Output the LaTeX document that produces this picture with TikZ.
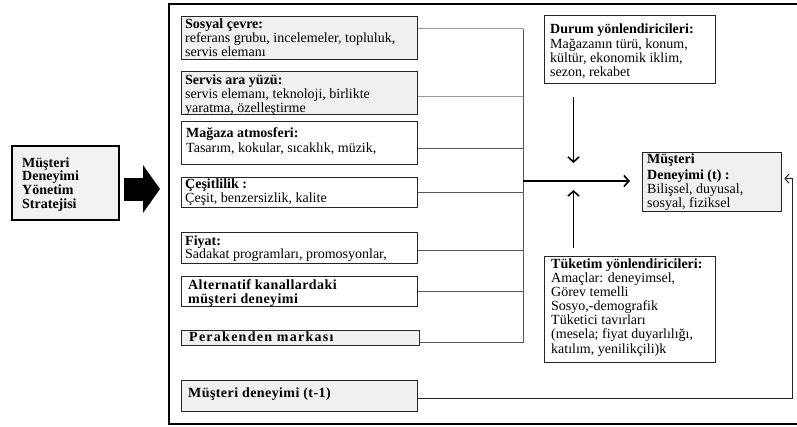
\documentclass[tikz,border=0pt]{standalone}
\usepackage{fontspec}
\setmainfont{Liberation Serif}
\newfontfamily\spacedA[LetterSpace=3]{Liberation Serif}
\newfontfamily\spacedB[LetterSpace=9]{Liberation Serif}
\usetikzlibrary{arrows.meta}
\newcommand\mlines[1]{\begin{tabular}[t]{@{}l@{}}#1\end{tabular}}
\tikzset{
  box/.style={draw=black!85, line width=1.3pt, inner sep=0pt, anchor=north west},
  gbox/.style={box, fill=black!6},
  txt/.style={anchor=base west, inner sep=0pt, font=\fontsize{14}{14.2}\selectfont},
  btxt/.style={txt, font=\fontsize{14}{14.2}\selectfont\bfseries},
  conn/.style={draw=black!65, line width=0.9pt},
  lconn/.style={draw=black!40, line width=0.9pt},
  arr/.style={line width=1.6pt, -{Straight Barb[length=5pt,width=11pt]}},
  fbarr/.style={draw=black!85, line width=1pt, -{Straight Barb[length=4pt,width=9pt]}},
}
\begin{document}
\begin{tikzpicture}[x=1pt,y=-1pt]
\useasboundingbox (0,0) rectangle (797,426);
% outer frame
\node[box, draw=black, line width=2.2pt, minimum width=632, minimum height=420] (outer) at (168,3) {};
% left strategy box
\node[box, draw=black, fill=black!5, line width=1.6pt, minimum width=107, minimum height=74] (lb) at (11,145) {};
\node[btxt, font=\fontsize{14}{13.8}\selectfont\bfseries] (lbt) at (22,167) {\mlines{Müşteri\\Deneyimi\\Yönetim\\Stratejisi}};
% thick arrow
\coordinate (la1) at (124,189);
\coordinate (la2) at (160,189);
\draw[line width=23pt, -{Triangle[length=17pt,width=47pt]}] (la1) -- (la2);
% left column boxes
\node[gbox, minimum width=236, minimum height=43] (soc) at (181,16) {};
\node[gbox, minimum width=236, minimum height=43] (srv) at (181,71) {};
\node[box, fill=white, minimum width=236, minimum height=43] (mag) at (181,121) {};
\node[box, fill=white, minimum width=236, minimum height=30] (ces) at (181,177) {};
\node[box, fill=white, minimum width=236, minimum height=31] (fiy) at (181,232) {};
\node[box, fill=white, minimum width=236, minimum height=30] (alt) at (181,276) {};
\node[gbox, minimum width=238, minimum height=15] (per) at (181,330) {};
\node[gbox, minimum width=236, minimum height=31] (prev) at (181,380) {};
% texts
\node[btxt] (soct) at (185,28) {Sosyal çevre:};
\node[txt] (socb) at (185,42.5) {\mlines{referans grubu, incelemeler, topluluk,\\servis elemanı}};
\node[btxt] (srvt) at (185,84.5) {Servis ara yüzü:};
\node[txt] (srvb) at (185,98) {\mlines{servis elemanı, teknoloji, birlikte\\yaratma, özelleştirme}};
\node[btxt] (magt) at (186,137) {Mağaza atmosferi:};
\node[txt] (magb) at (186,152) {Tasarım, kokular, sıcaklık, müzik,};
\node[btxt] (cest) at (185,188) {Çeşitlilik :};
\node[txt] (cesb) at (185,202) {Çeşit, benzersizlik, kalite};
\node[btxt] (fiyt) at (185,245) {Fiyat:};
\node[txt] (fiyb) at (185,258) {Sadakat programları, promosyonlar,};
\node[btxt, font=\fontsize{14}{14.2}\spacedA\bfseries] (altt) at (188,289) {\mlines{Alternatif kanallardaki\\müşteri deneyimi}};
\node[btxt, font=\fontsize{14}{14.2}\spacedB\bfseries] (pert) at (189,341.5) {Perakenden markası};
\node[btxt, font=\fontsize{14}{14.2}\spacedA\bfseries] (prevt) at (188,397.5) {Müşteri deneyimi (t-1)};
% right boxes
\node[box, fill=white, minimum width=171, minimum height=68] (dur) at (544,15) {};
\node[btxt] (durt) at (550,33) {Durum yönlendiricileri:};
\node[txt] (durb) at (550,48) {\mlines{Mağazanın türü, konum,\\kültür, ekonomik iklim,\\sezon, rekabet}};
\node[gbox, minimum width=139, minimum height=59] (mdt) at (642,152) {};
\node[btxt, font=\fontsize{14}{16}\selectfont\bfseries] (mdtt) at (647,163) {\mlines{Müşteri\\Deneyimi (t) :}};
\node[txt] (mdtb) at (647,193.5) {\mlines{Bilişsel, duyusal,\\sosyal, fiziksel}};
\node[box, fill=white, minimum width=171, minimum height=106] (tuk) at (544,256) {};
\node[btxt] (tukt) at (551,268) {Tüketim yönlendiricileri:};
\node[txt] (tukb) at (551,282) {\mlines{Amaçlar: deneyimsel,\\Görev temelli\\Sosyo,-demografik\\Tüketici tavırları\\(mesela; fiyat duyarlılığı,\\katılım, yenilikçili)k}};
% bus connectors
\coordinate (bus) at (523,0);
\coordinate (c1) at ([yshift=9.5pt]soc.east);
\coordinate (c2) at ([yshift=-3.5pt]srv.east);
\coordinate (c3) at ([yshift=-5.5pt]mag.east);
\coordinate (c4) at (ces.east);
\coordinate (c5) at ([yshift=-2.5pt]fiy.east);
\coordinate (c6) at (alt.east);
\coordinate (c7) at ([yshift=-4.5pt]per.east);
\draw[lconn] (c1) -- (c1 -| bus);
\draw[lconn] (c2) -- (c2 -| bus);
\draw[conn] (c3) -- (c3 -| bus);
\draw[conn] (c4) -- (c4 -| bus);
\draw[conn] (c5) -- (c5 -| bus);
\draw[conn] (c6) -- (c6 -| bus);
\draw[conn] (c7) -- (c7 -| bus);
\draw[conn] (c1 -| bus) -- (c7 -| bus);
% main arrow
\coordinate (m0) at (523,181);
\coordinate (m1) at (630,181);
\draw[arr] (m0) -- (m1);
% moderator arrows
\coordinate (d1) at (573.5,97);
\coordinate (d2) at (573.5,163);
\draw[arr] (d1) -- (d2);
\coordinate (u1) at (573.5,248);
\coordinate (u2) at (573.5,190);
\draw[arr] (u1) -- (u2);
% feedback
\coordinate (c8) at ([yshift=-2.5pt]prev.east);
\coordinate (fbx) at (792,0);
\coordinate (c9) at ([xshift=2pt,yshift=3.5pt]mdt.east);
\draw[fbarr] (c8) -- (c8 -| fbx) -- (fbx |- c9) -- (c9);
\end{tikzpicture}
\end{document}
